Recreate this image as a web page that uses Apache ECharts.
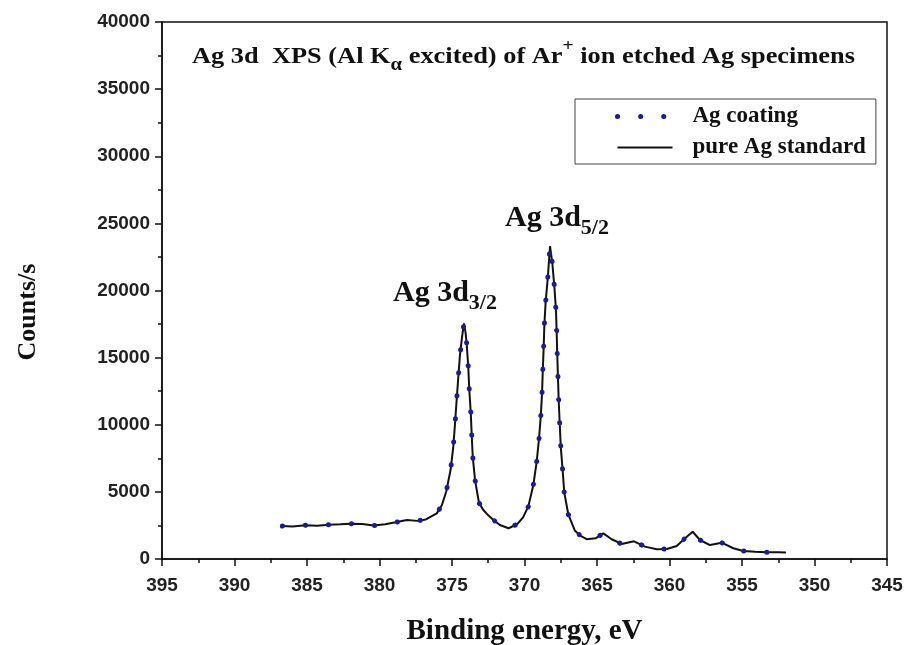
<!DOCTYPE html>
<html>
<head>
<meta charset="utf-8">
<script src="https://cdn.jsdelivr.net/npm/echarts@6/dist/echarts.min.js"></script>
<style>html,body{margin:0;padding:0;background:#fff}#c{width:908px;height:645px}</style>
</head>
<body>
<div id="c"></div>
<script>
// Binding energy (eV)
const energy = [386.7, 386.0, 385.1, 384.3, 383.5, 382.7, 382.0, 381.2, 380.4, 379.6, 378.9, 378.1, 377.4, 376.8, 376.05, 375.7, 375.4, 375.09, 374.91, 374.79, 374.68, 374.57, 374.45, 374.3, 374.17, 374.07, 373.99, 373.88, 373.81, 373.71, 373.64, 373.57, 373.41, 373.14, 372.84, 372.5, 372.2, 371.7, 371.1, 370.5, 370.1, 369.74, 369.39, 369.16, 369.0, 368.88, 368.79, 368.74, 368.68, 368.63, 368.54, 368.4, 368.24, 368.08, 367.94, 367.83, 367.78, 367.74, 367.69, 367.64, 367.57, 367.5, 367.37, 367.26, 366.98, 366.52, 366.1, 365.71, 365.1, 364.56, 363.99, 363.3, 362.45, 361.69, 360.88, 360.19, 359.5, 358.93, 358.4, 357.9, 357.21, 356.4, 355.6, 354.91, 354.1, 353.3, 352.5, 351.97];
// Counts/s, pure Ag standard
const standardCounts = [2450, 2420, 2510, 2470, 2560, 2580, 2630, 2600, 2490, 2590, 2730, 2900, 2840, 2950, 3400, 4000, 5010, 6680, 8370, 10110, 11840, 13460, 15200, 16600, 17550, 16900, 16070, 14330, 12660, 10970, 9240, 7620, 5880, 4190, 3650, 3250, 2960, 2530, 2290, 2600, 3100, 3900, 5510, 7250, 8940, 10600, 12340, 14000, 15690, 17430, 19170, 20860, 23300, 22030, 20280, 18550, 16860, 15200, 13460, 11770, 10060, 8370, 6630, 4970, 3330, 2100, 1700, 1480, 1540, 1910, 1470, 1120, 1320, 920, 720, 745, 970, 1540, 2030, 1415, 1040, 1215, 800, 600, 545, 500, 500, 480];
// Counts/s, Ag coating
const coatingCounts = [2450, 2420, 2510, 2470, 2560, 2580, 2630, 2600, 2490, 2590, 2730, 2900, 2840, 2950, 3400, 4000, 5010, 6680, 8370, 10110, 11840, 13460, 15200, 16600, 17550, 16900, 16070, 14330, 12660, 10970, 9240, 7620, 5880, 4190, 3650, 3250, 2960, 2530, 2290, 2600, 3100, 3900, 5510, 7250, 8940, 10600, 12340, 14000, 15690, 17430, 19170, 20860, 23300, 22030, 20280, 18550, 16860, 15200, 13460, 11770, 10060, 8370, 6630, 4970, 3330, 2100, 1700, 1480, 1540, 1910, 1470, 1120, 1320, 920, 720, 745, 970, 1540, 2030, 1415, 1040, 1215, 800, 600, 545, 500, 500, 480];
const seriesNames = ['Ag coating', 'pure Ag standard'];
const xTicks = { min: 345, max: 395, step: 5 };
const yTicks = { min: 0, max: 40000, step: 5000 };

const SERIF = '"Liberation Serif", "Times New Roman", serif';
const SANS = '"Liberation Sans", Arial, sans-serif';
const cv = document.createElement('canvas').getContext('2d');
function tw(text, size) { cv.font = 'bold ' + size + 'px ' + SERIF; return cv.measureText(text).width; }

// lays out text pieces (with sub/superscripts) left-to-right; optional target width
function richLine(x0, yMid, parts, targetWidth) {
  let x = 0; const children = [];
  parts.forEach(p => {
    children.push({ type: 'text', x: x, y: p.dy || 0,
      style: { text: p.t, fill: '#111', font: 'bold ' + p.s + 'px ' + SERIF, textAlign: 'left', textVerticalAlign: 'middle' } });
    x += tw(p.t, p.s);
  });
  const sx = targetWidth ? targetWidth / x : 1;
  return { type: 'group', x: x0, y: yMid, scaleX: sx, children: children };
}

const chart = echarts.init(document.getElementById('c'), null, { renderer: 'canvas' });
const pairs = a => energy.map((e, i) => [e, a[i]]);
const tickStyle = { color: '#111', width: 1.5 };

chart.setOption({
  animation: false,
  backgroundColor: '#fff',
  grid: { left: 162, right: 21, top: 22, bottom: 86, show: true, borderColor: '#111', borderWidth: 1.5 },
  xAxis: {
    type: 'value', min: xTicks.min, max: xTicks.max, interval: xTicks.step, inverse: true,
    axisLine: { show: true, onZero: false, lineStyle: tickStyle },
    axisTick: { show: true, inside: false, length: 7, lineStyle: tickStyle },
    minorTick: { show: true, splitNumber: 2, length: 4, lineStyle: tickStyle },
    splitLine: { show: false },
    axisLabel: { margin: 17, fontFamily: SANS, fontWeight: 'bold', fontSize: 19, color: '#222' }
  },
  yAxis: {
    type: 'value', min: yTicks.min, max: yTicks.max, interval: yTicks.step,
    axisLine: { show: true, lineStyle: tickStyle },
    axisTick: { show: true, inside: false, length: 7, lineStyle: tickStyle },
    minorTick: { show: true, splitNumber: 2, length: 4, lineStyle: tickStyle },
    splitLine: { show: false },
    axisLabel: { margin: 12, fontFamily: SANS, fontWeight: 'bold', fontSize: 19, color: '#222', formatter: v => String(v) }
  },
  legend: {
    data: seriesNames, orient: 'vertical', left: 575, top: 99,
    padding: [6, 10, 5, 40], itemWidth: 55, itemHeight: 20, itemGap: 8,
    borderColor: '#444', borderWidth: 1, backgroundColor: '#fff',
    itemStyle: { opacity: 0 },
    lineStyle: { width: 'inherit', type: 'inherit', cap: 'inherit' },
    textStyle: { fontFamily: SERIF, fontWeight: 'bold', fontSize: 23, color: '#111', padding: [0, 0, 0, 15] }
  },
  series: [
    { name: seriesNames[0], type: 'line', data: pairs(coatingCounts), symbol: 'none', showSymbol: false, z: 4,
      lineStyle: { color: '#1a1a9a', width: 5, type: [0.1, 23], cap: 'round' }, itemStyle: { color: '#1a1a9a' } },
    { name: seriesNames[1], type: 'line', data: pairs(standardCounts), symbol: 'none', showSymbol: false, z: 3,
      lineStyle: { color: '#111', width: 2 }, itemStyle: { color: '#111' } }
  ],
  graphic: [
    richLine(192, 57, [
      { t: 'Ag 3d  XPS (Al K', s: 23 }, { t: 'α', s: 18, dy: 8 }, { t: ' excited) of Ar', s: 23 },
      { t: '+', s: 17, dy: -10 }, { t: ' ion etched Ag specimens', s: 23 }
    ], 663),
    richLine(393, 293, [{ t: 'Ag 3d', s: 30 }, { t: '3/2', s: 22, dy: 10 }]),
    richLine(505, 218, [{ t: 'Ag 3d', s: 30 }, { t: '5/2', s: 22, dy: 10 }]),
    { type: 'text', x: 28, y: 312, rotation: Math.PI / 2,
      style: { text: 'Counts/s', fill: '#111', font: 'bold 26px ' + SERIF, textAlign: 'center', textVerticalAlign: 'middle' } },
    { type: 'text', x: 524.5, y: 632,
      style: { text: 'Binding energy, eV', fill: '#111', font: 'bold 29px ' + SERIF, textAlign: 'center', textVerticalAlign: 'middle' } }
  ]
});
</script>
</body>
</html>
